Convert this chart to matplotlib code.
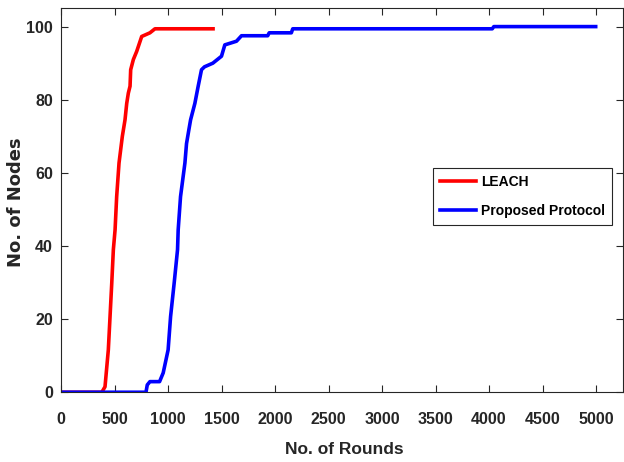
import matplotlib
matplotlib.use("Agg")
import matplotlib.pyplot as plt

# values
leach_rounds = [0, 380, 410, 441, 457, 473, 488, 504, 519, 541, 572, 597, 613,
                628, 644, 650, 675, 706, 753, 830, 877, 1420]
leach_dead = [0, 0, 1.5, 11.6, 20.7, 29.8, 39, 44.4, 53.5, 62.7, 70, 74.5, 79,
              81.8, 83.7, 88.2, 91, 93.2, 97.3, 98.3, 99.4, 99.4]

prop_rounds = [0, 793, 805, 830, 920, 954, 1000, 1023, 1057, 1088, 1094, 1116,
               1157, 1172, 1194, 1210, 1250, 1281, 1312, 1340, 1418, 1499, 1530,
               1639, 1686, 1931, 1945, 2152, 2165, 4030, 4045, 4997]
prop_dead = [0, 0, 2, 2.9, 2.9, 5.3, 11.6, 20.7, 30, 39, 44.4, 53.5,
             62.7, 68, 71.8, 74.5, 79, 83.7, 88.2, 89, 90, 91.9, 95,
             96, 97.5, 97.5, 98.3, 98.3, 99.4, 99.4, 100, 100]

x_ticks = [0, 500, 1000, 1500, 2000, 2500, 3000, 3500, 4000, 4500, 5000]
y_ticks = [0, 20, 40, 60, 80, 100]

plt.rcParams['font.family'] = ['Liberation Sans', 'DejaVu Sans']
plt.rcParams['font.weight'] = 'bold'

fig = plt.figure(figsize=(6.24, 4.62), dpi=100)
ax = fig.add_axes([0.098, 0.151, 0.9, 0.831])

ax.plot(leach_rounds, leach_dead, color='#ff0000', lw=2.6, label='LEACH')
ax.plot(prop_rounds, prop_dead, color='#0000ff', lw=2.6, label='Proposed Protocol')

ax.set_xlim(0, 5250)
ax.set_ylim(0, 105)
ax.set_xticks(x_ticks)
ax.set_yticks(y_ticks)
ax.tick_params(direction='in', top=True, right=True, length=5, width=0.8,
               color='#262626', labelsize=11.5, labelcolor='#262626')
ax.tick_params(axis='x', pad=14)
ax.tick_params(axis='y', pad=6)
for s in ax.spines.values():
    s.set_color('#262626')
    s.set_linewidth(0.8)

ax.set_xlabel('No. of Rounds', fontsize=12.5, fontweight='bold', color='#262626',
              va='center')
ax.xaxis.set_label_coords(0.505, -0.150)
ax.set_ylabel('No. of Nodes', fontsize=13, fontweight='bold', color='#262626',
              family=['DejaVu Sans'], va='center')
ax.yaxis.set_label_coords(-0.080, 0.496)

leg = ax.legend(loc='upper left', bbox_to_anchor=(0.662, 0.584), borderaxespad=0,
                fontsize=10, fancybox=False, framealpha=1, edgecolor='#262626',
                handlelength=2.6, handletextpad=0.36, borderpad=0.5,
                labelspacing=1.1)
leg.get_frame().set_linewidth(0.8)

fig.savefig('out.png', dpi=100)
